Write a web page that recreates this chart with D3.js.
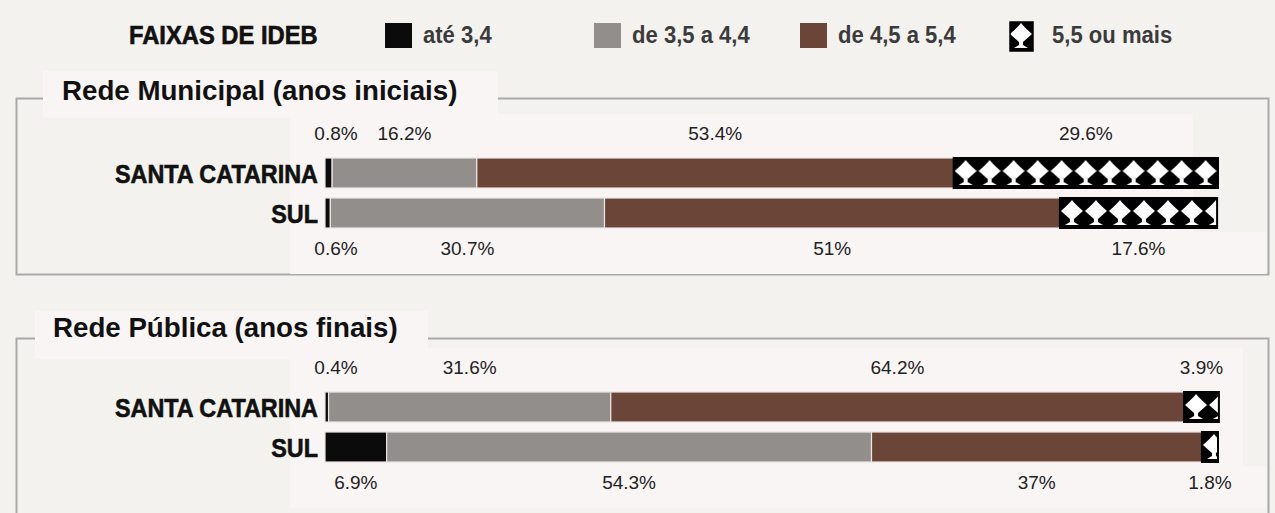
<!DOCTYPE html>
<html>
<head>
<meta charset="utf-8">
<script src="https://cdn.jsdelivr.net/npm/d3@7"></script>
<style>
  body { margin: 0; background: #f4f2ee; }
  svg { display: block; }
</style>
</head>
<body>
<div id="chart"></div>
<script>
let width = 1275, height = 513;

// data
let bands = ["até 3,4", "de 3,5 a 4,4", "de 4,5 a 5,4", "5,5 ou mais"];
let categories = ["SANTA CATARINA", "SUL"];
let panelTitles = ["Rede Municipal (anos iniciais)", "Rede Pública (anos finais)"];
let municipalSC = [0.8, 16.2, 53.4, 29.6];
let municipalSul = [0.6, 30.7, 51, 17.6];
let publicaSC = [0.4, 31.6, 64.2, 3.9];
let publicaSul = [6.9, 54.3, 37, 1.8];

let panels = [
    {title: panelTitles[0], rows: [municipalSC, municipalSul]},
    {title: panelTitles[1], rows: [publicaSC, publicaSul]}
];

let colors = ["#0b0b0b", "#928e8c", "#6a4538", "pattern"];
let x = d3.scaleLinear().domain([0, 100]).range([325, 1218]);

let heavy = "'Liberation Sans', Arial, sans-serif";

let svg = d3.select("#chart").append("svg")
    .attr("width", width).attr("height", height)
    .attr("viewBox", [0, 0, width, height]);

let defs = svg.append("defs");
let tile = (id, px, py) => {
    let p = defs.append("pattern")
        .attr("id", id)
        .attr("patternUnits", "userSpaceOnUse")
        .attr("x", px).attr("y", py)
        .attr("width", 24).attr("height", 30);
    p.append("rect").attr("width", 24).attr("height", 30).attr("fill", "#000");
    p.append("path")
        .attr("fill", "#fff")
        .attr("d", "M12,2Q14,5 23,13L14,21L14,24L19,27L5,27L10,24L10,21L1,13Q10,5 12,2Z");
    return `url(#${id})`;
};

// legend
let legend = svg.append("g").attr("font-family", heavy);
legend.append("text")
    .attr("transform", "translate(129,44) scale(0.95,1)")
    .attr("font-size", 25).attr("font-weight", "bold")
    .attr("fill", "#111").attr("stroke", "#111").attr("stroke-width", 0.6)
    .text("FAIXAS DE IDEB");
let legendX = [385, 594, 800, 1010];
bands.forEach((b, i) => {
    let fill = i === 3 ? tile("patLegend", legendX[i] - 1, 21) : colors[i];
    legend.append("rect")
        .attr("x", legendX[i]).attr("y", i === 3 ? 22 : 23)
        .attr("width", i === 3 ? 23 : 27).attr("height", i === 3 ? 29 : 25)
        .attr("fill", fill)
        .attr("stroke", i === 3 ? "#000" : "none")
        .attr("stroke-width", 1.5);
    legend.append("text")
        .attr("transform", `translate(${legendX[i] + (i === 3 ? 42 : 38)},43) scale(0.92,1)`)
        .attr("font-size", 24).attr("font-weight", "bold")
        .attr("fill", "#3b3b3b")
        .text(b);
});

// panels
let panelTop = [98, 338];
let titleBase = [100, 337];
let barTop = [158, 392];
panels.forEach((panel, pi) => {
    let top = panelTop[pi];
    let g = svg.append("g");

    // frame
    g.append("rect")
        .attr("x", 16.5).attr("y", top + 0.5)
        .attr("width", 1252).attr("height", pi === 0 ? 176 : 200)
        .attr("fill", "none")
        .attr("stroke", "#a9a9a9").attr("stroke-width", 2);

    // pale boxes behind the labels
    let bt = barTop[pi];
    g.append("rect").attr("x", 290).attr("y", bt - 44)
        .attr("width", pi === 0 ? 903 : 953).attr("height", 120).attr("fill", "#faf5f5");
    g.append("rect").attr("x", 290).attr("y", bt + 74)
        .attr("width", 976).attr("height", 42).attr("fill", "#faf5f5");

    // title
    let tx = pi === 0 ? 43 : 35;
    g.append("rect").attr("x", tx).attr("y", top - 27)
        .attr("width", pi === 0 ? 455 : 393).attr("height", pi === 0 ? 47 : 48)
        .attr("fill", "#faf5f5");
    g.append("text")
        .attr("x", pi === 0 ? 62 : 53).attr("y", titleBase[pi])
        .attr("font-family", heavy)
        .attr("font-size", 27.7).attr("font-weight", "bold")
        .attr("fill", "#111")
        .text(panel.title);

    let y = d3.scaleBand().domain(categories).range([bt, bt + 70]).paddingInner(0.25);

    panel.rows.forEach((vals, ri) => {
        let cat = categories[ri];
        let ends = d3.cumsum(vals);
        let segs = vals.map((v, i) => ({v, i, x0: ends[i] - v, x1: ends[i]}));

        g.append("text")
            .attr("transform", `translate(318,${y(cat) + y.bandwidth() / 2 + 10}) scale(0.9,1)`)
            .attr("text-anchor", "end")
            .attr("font-family", heavy)
            .attr("font-size", 26).attr("font-weight", "bold")
            .attr("fill", "#111").attr("stroke", "#111").attr("stroke-width", 0.6)
            .text(cat);

        g.append("g").selectAll("rect")
            .data(segs)
            .join("rect")
            .attr("x", d => x(d.x0))
            .attr("y", y(cat))
            .attr("width", d => Math.max(3, x(d.x1) - x(d.x0)))
            .attr("height", y.bandwidth())
            .attr("fill", d => d.i === 3 ? tile(`pat${pi}${ri}`, x(d.x0), y(cat)) : colors[d.i])
            .attr("stroke", d => d.i === 3 ? "#000" : "#ece6e4")
            .attr("stroke-width", d => d.i === 3 ? 2 : 1.2);

        // value labels: first row above, second row below
        let ly = ri === 0 ? bt - 18 : bt + 97;
        g.append("g").selectAll("text")
            .data(segs)
            .join("text")
            .attr("x", d => Math.max(336, (x(d.x0) + x(d.x1)) / 2))
            .attr("y", ly)
            .attr("text-anchor", "middle")
            .attr("font-family", heavy)
            .attr("font-size", 19)
            .attr("fill", "#222")
            .text(d => `${d.v}%`);
    });
});
</script>
</body>
</html>
